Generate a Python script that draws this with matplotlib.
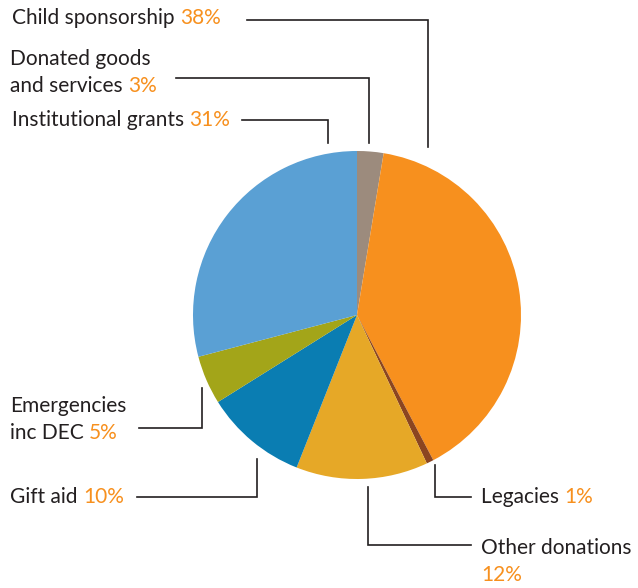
import matplotlib
matplotlib.use("Agg")
import matplotlib.pyplot as plt

labels = ["Donated goods\nand services", "Child sponsorship", "Legacies", "Other donations",
          "Gift aid", "Emergencies\ninc DEC", "Institutional grants"]
# slice sizes as drawn in the picture (labels carry the printed percentages)
values = [2.6, 39.7, 0.7, 13.0, 10.1, 4.8, 29.1]
colors = ["#9C8B7D", "#F7901E", "#8B4520", "#E6A827", "#0A7DB2", "#A3A519", "#5AA0D4"]
pct_text = ["3%", "38%", "1%", "12%", "10%", "5%", "31%"]

plt.rcParams['font.family'] = ['Lato', 'DejaVu Sans']
W, H = 638, 588
fig = plt.figure(figsize=(W / 100, H / 100), dpi=100)
ax = fig.add_axes([0, 0, 1, 1])

# pie drawn in pixel space (y axis inverted, so counterclock=True shows clockwise)
ax.pie(values, colors=colors, startangle=-90, counterclock=True,
       center=(357, 315), radius=164, frame=True,
       wedgeprops=dict(linewidth=0))
ax.set_xlim(0, W)
ax.set_ylim(H, 0)
ax.set_aspect('equal')
ax.axis('off')

txt_col = "#231F20"
pct_col = "#F7901E"
fs = 15

def label(x, y, first, second, pct, newline_pct=False):
    if first:
        ax.text(x, y, first, fontsize=fs, color=txt_col, va='center', ha='left')
        y = y + 27
    t = ax.text(x, y, second, fontsize=fs, color=txt_col, va='center', ha='left')
    if newline_pct:
        ax.text(x, y + 27, pct, fontsize=fs, color=pct_col, va='center', ha='left')
    else:
        ax.annotate(pct, xy=(1, 0), xycoords=t, xytext=(0, 0), textcoords='offset points',
                    fontsize=fs, color=pct_col, va='bottom', ha='left')

# leader lines (pixel coordinates)
lines = [
    [(247, 20), (428, 20), (428, 147)],
    [(176, 78), (369, 78), (369, 143)],
    [(242, 120), (328, 120), (328, 143)],
    [(139, 428), (202, 428), (202, 388)],
    [(137, 497), (257, 497), (257, 459)],
    [(435, 465), (435, 497), (471, 497)],
    [(368, 487), (368, 545), (471, 545)],
]
for pts in lines:
    xs, ys = zip(*pts)
    ax.plot(xs, ys, color=txt_col, lw=1.2, solid_joinstyle='miter')

label(12, 18, None, "Child sponsorship ", pct_text[1])
label(10, 59, "Donated goods", "and services ", pct_text[0])
label(12, 120, None, "Institutional grants ", pct_text[6])
label(10, 406, "Emergencies", "inc DEC ", pct_text[5])
label(10, 497, None, "Gift aid ", pct_text[4])
label(481, 497, None, "Legacies ", pct_text[2])
label(481, 548, None, "Other donations", pct_text[3], newline_pct=True)

fig.savefig("out.png", dpi=100)
